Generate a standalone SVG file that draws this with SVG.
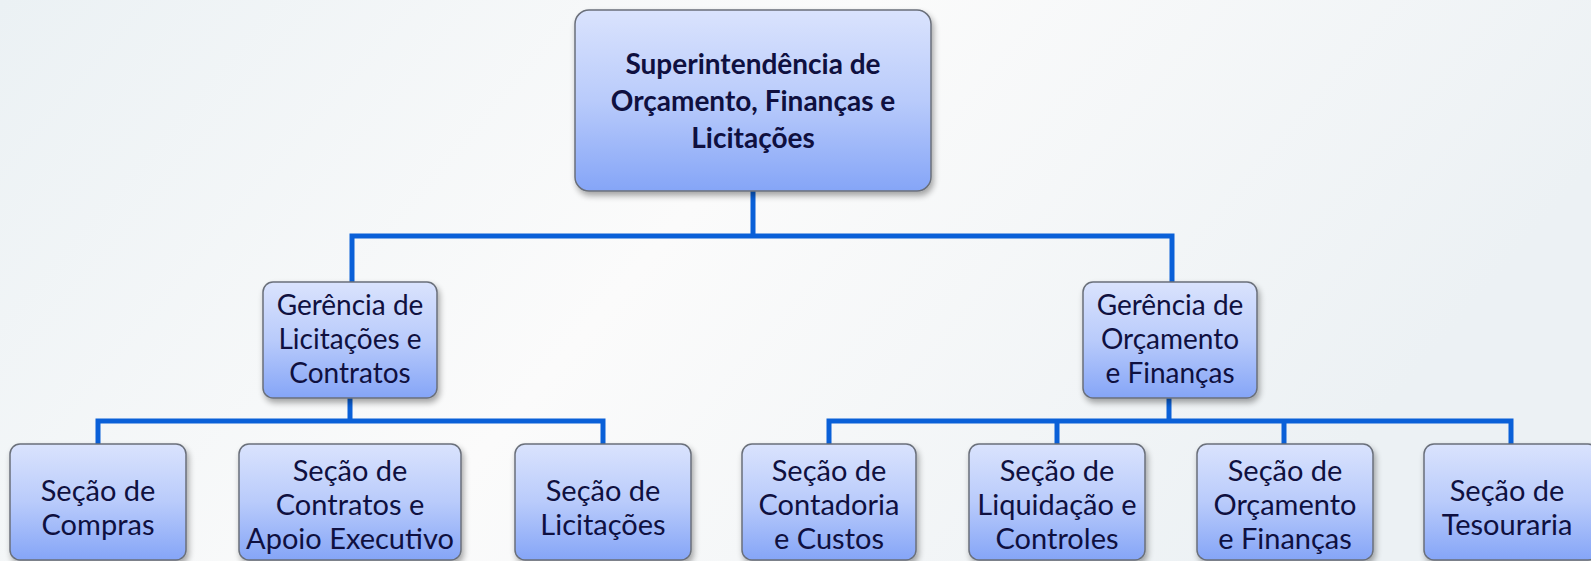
<svg xmlns="http://www.w3.org/2000/svg" width="1591" height="561" viewBox="0 0 1591 561">
<defs>
<linearGradient id="bg" x1="0" y1="0" x2="1" y2="0.3">
<stop offset="0" stop-color="#ebf1f4"/>
<stop offset="0.5" stop-color="#fbfbfb"/>
<stop offset="1" stop-color="#ecf1f4"/>
</linearGradient>
<linearGradient id="box" x1="0" y1="0" x2="0" y2="1">
<stop offset="0" stop-color="#dae3fd"/>
<stop offset="0.5" stop-color="#b9cbfb"/>
<stop offset="1" stop-color="#85a5f7"/>
</linearGradient>
<filter id="sh" x="-10%" y="-10%" width="125%" height="130%">
<feGaussianBlur in="SourceAlpha" stdDeviation="3"/>
<feOffset dx="2" dy="4"/>
<feComponentTransfer><feFuncA type="linear" slope="0.35"/></feComponentTransfer>
<feMerge><feMergeNode/><feMergeNode in="SourceGraphic"/></feMerge>
</filter>
<style>
.b{fill:url(#box);stroke:#6a6f7a;stroke-width:1.5;filter:url(#sh)}
.t{font-family:Lato,"Liberation Sans",sans-serif;font-size:28px;fill:#0f1040;text-anchor:middle}
.s{font-size:29px}
.tb{font-family:Lato,"Liberation Sans",sans-serif;font-size:28px;font-weight:bold;fill:#0f1040;text-anchor:middle}
.c{fill:none;stroke:#0a60d8;stroke-width:5;stroke-linecap:square}
</style>
</defs>
<rect width="1591" height="561" fill="url(#bg)"/>
<g id="connectors">
<path class="c" d="M753 191V236M352 236H1172M352 236V282M1172 236V282"/>
<path class="c" d="M350 398V421M98 421H603M98 421V444M603 421V444"/>
<path class="c" d="M1169 398V421M829 421H1511M829 421V444M1057 421V444M1284 421V444M1511 421V444"/>
</g>
<g id="n0"><rect class="b" x="575" y="10" width="356" height="181" rx="14"/>
<text class="tb"><tspan x="753" y="74">Superintendência de</tspan><tspan x="753" y="111">Orçamento, Finanças e</tspan><tspan x="753" y="148">Licitações</tspan></text></g>
<g id="n1"><rect class="b" x="263" y="282" width="174" height="116" rx="10"/>
<text class="t"><tspan x="350" y="315">Gerência de</tspan><tspan x="350" y="349">Licitações e</tspan><tspan x="350" y="383">Contratos</tspan></text></g>
<g id="n2"><rect class="b" x="1083" y="282" width="174" height="116" rx="10"/>
<text class="t"><tspan x="1170" y="315">Gerência de</tspan><tspan x="1170" y="349">Orçamento</tspan><tspan x="1170" y="383">e Finanças</tspan></text></g>
<g id="n3"><rect class="b" x="10" y="444" width="176" height="116" rx="10"/>
<text class="t s"><tspan x="98" y="501">Seção de</tspan><tspan x="98" y="535">Compras</tspan></text></g>
<g id="n4"><rect class="b" x="239" y="444" width="222" height="116" rx="10"/>
<text class="t s"><tspan x="350" y="481">Seção de</tspan><tspan x="350" y="515">Contratos e</tspan><tspan x="350" y="549">Apoio Executivo</tspan></text></g>
<g id="n5"><rect class="b" x="515" y="444" width="176" height="116" rx="10"/>
<text class="t s"><tspan x="603" y="501">Seção de</tspan><tspan x="603" y="535">Licitações</tspan></text></g>
<g id="n6"><rect class="b" x="742" y="444" width="174" height="116" rx="10"/>
<text class="t s"><tspan x="829" y="481">Seção de</tspan><tspan x="829" y="515">Contadoria</tspan><tspan x="829" y="549">e Custos</tspan></text></g>
<g id="n7"><rect class="b" x="969" y="444" width="176" height="116" rx="10"/>
<text class="t s"><tspan x="1057" y="481">Seção de</tspan><tspan x="1057" y="515">Liquidação e</tspan><tspan x="1057" y="549">Controles</tspan></text></g>
<g id="n8"><rect class="b" x="1197" y="444" width="176" height="116" rx="10"/>
<text class="t s"><tspan x="1285" y="481">Seção de</tspan><tspan x="1285" y="515">Orçamento</tspan><tspan x="1285" y="549">e Finanças</tspan></text></g>
<g id="n9"><rect class="b" x="1424" y="444" width="174" height="116" rx="10"/>
<text class="t s"><tspan x="1507" y="501">Seção de</tspan><tspan x="1507" y="535">Tesouraria</tspan></text></g>
</svg>
